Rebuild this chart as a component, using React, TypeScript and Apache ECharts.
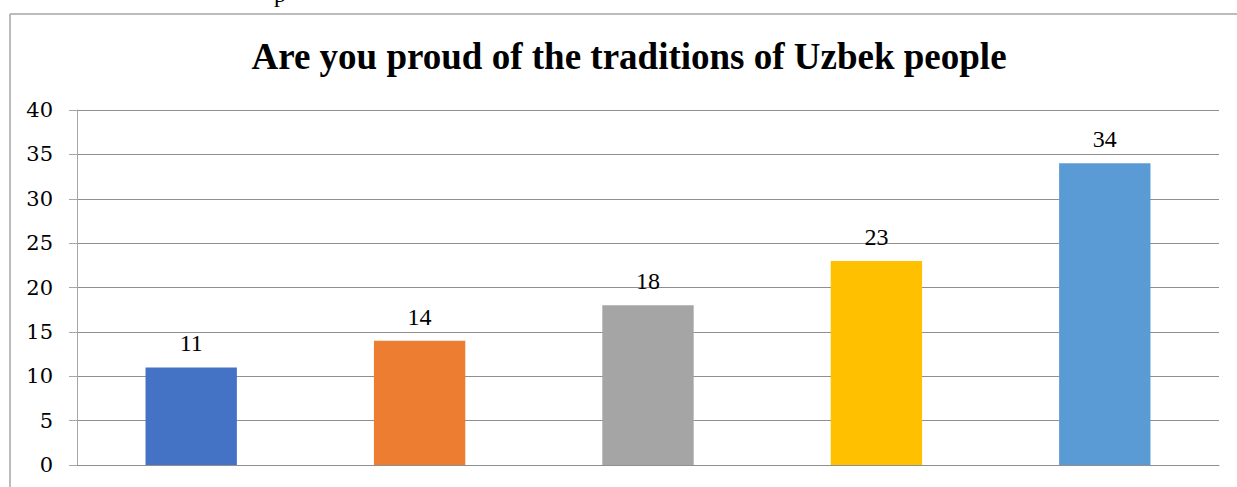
import React, { useEffect, useRef } from "react";
import * as echarts from "echarts";

const categories = ["A", "B", "C", "D", "E"];
const values = [11, 14, 18, 23, 34];
const barColors = ["#4472C4", "#ED7D31", "#A5A5A5", "#FFC000", "#5B9BD5"];
const yTicks = { min: 0, max: 40, interval: 5 };
const titleText = "Are you proud of the traditions of Uzbek people";

export default function App() {
  const ref = useRef<HTMLDivElement>(null);
  useEffect(() => {
    if (!ref.current) return;
    const chart = echarts.init(ref.current, null, { renderer: "svg" });
    const serif = "Liberation Serif";
    chart.setOption({
      animation: false,
      backgroundColor: "#ffffff",
      grid: { left: 77, right: 18, top: 110, bottom: 22, containLabel: false },
      xAxis: {
        type: "category",
        data: categories,
        axisLine: { show: true, lineStyle: { color: "#8f8f8f", width: 1 } },
        axisTick: { show: false },
        axisLabel: { show: false },
      },
      yAxis: {
        type: "value",
        min: yTicks.min,
        max: yTicks.max,
        interval: yTicks.interval,
        axisLine: { show: true, lineStyle: { color: "#a6a6a6", width: 1 } },
        axisTick: { show: true, length: 8, lineStyle: { color: "#a6a6a6" } },
        axisLabel: {
          fontFamily: "DejaVu Serif",
          fontWeight: "normal",
          fontStyle: "normal",
          fontSize: 21,
          color: "#000",
          margin: 24,
        },
        splitLine: { show: true, lineStyle: { color: "#8f8f8f", width: 1 } },
      },
      series: [
        {
          type: "bar",
          barWidth: "40%",
          data: values.map((v, i) => ({
            value: v,
            itemStyle: { color: barColors[i] },
          })),
          label: {
            show: true,
            position: "top",
            distance: 12,
            fontFamily: "serif",
            fontWeight: "normal",
            fontSize: 24,
            color: "#000",
          },
        },
      ],
      graphic: [
        {
          type: "line",
          shape: { x1: 10, y1: 14, x2: 1237, y2: 14 },
          style: { stroke: "#a6a6a6", lineWidth: 1.5 },
        },
        {
          type: "line",
          shape: { x1: 10, y1: 14, x2: 10, y2: 487 },
          style: { stroke: "#a6a6a6", lineWidth: 1.5 },
        },
        {
          type: "text",
          x: 629,
          y: 56,
          style: {
            text: titleText,
            fontFamily: serif,
            fontWeight: "bold",
            fontSize: 37,
            fill: "#000",
            textAlign: "center",
            textVerticalAlign: "middle",
          },
        },
        {
          type: "text",
          x: 280,
          y: 6,
          style: {
            text: "p",
            fontFamily: serif,
            fontSize: 24,
            fill: "#000",
            textAlign: "center",
            textVerticalAlign: "bottom",
          },
        },
      ],
    });
    return () => chart.dispose();
  }, []);
  return (
    <div
      ref={ref}
      style={{ position: "absolute", left: 0, top: 0, width: 1237, height: 487 }}
    />
  );
}
